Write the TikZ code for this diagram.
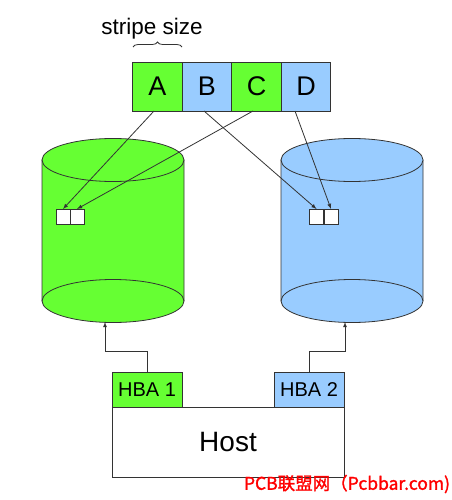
\documentclass[tikz,border=0pt]{standalone}
\usepackage{fontspec}
\setmainfont{Liberation Sans}
\newfontfamily\cjk[FakeBold=1.5]{Noto Sans CJK SC}
\usetikzlibrary{arrows,decorations.pathreplacing}

\definecolor{diskgreen}{HTML}{66FF33}
\definecolor{diskblue}{HTML}{99CCFF}

\tikzset{
    stripebox/.style={draw=black!80,line width=0.8pt,minimum width=49.5pt,minimum height=49pt,
                      inner sep=0pt,outer sep=0pt,font=\fontsize{27}{27}\selectfont},
    blockbox/.style={draw=black!80,line width=0.8pt,minimum width=14pt,minimum height=15pt,
                     inner sep=0pt,outer sep=0pt,fill=white},
    hbabox/.style={draw=black!80,line width=0.8pt,minimum width=70pt,minimum height=35pt,
                   inner sep=0pt,outer sep=0pt,font=\fontsize{20}{20}\selectfont}
}

\begin{document}
\begin{tikzpicture}[x=1pt,y=-1pt,>=latex]
    \useasboundingbox (0,0) rectangle (451,500);

    \begin{scope}[line width=0.8pt,draw=black!80]

        % the two disks
        \foreach \cx/\col in {113/diskgreen,352/diskblue}{%
            \filldraw [fill=\col] (\cx-71,160) -- (\cx-71,301)
                arc [start angle=180,end angle=0,x radius=71,y radius=21.5]
                -- (\cx+71,160) -- cycle;
            \filldraw [fill=\col] (\cx,160) ellipse [x radius=71,y radius=21.5];
            \draw (\cx-71,301) arc [start angle=180,end angle=360,x radius=71,y radius=21.5];
        }

        % stripes
        \foreach \n/\col [count=\i] in {A/diskgreen,B/diskblue,C/diskgreen,D/diskblue}{%
            \node [stripebox,fill=\col] (\n) at ({108+49.5*\i},86.5) {\n};
        }

        \draw [decorate,decoration={brace,amplitude=5pt}] (133,47) -- (182,47);
        \node [anchor=base,font=\fontsize{22.5}{22.5}\selectfont] (size) at (152,35) {stripe size};

        % blocks on the disks
        \node [blockbox] (l1) at (63,216.5) {};
        \node [blockbox] (l2) at (77,216.5) {};
        \node [blockbox] (r1) at (316.5,216.5) {};
        \node [blockbox] (r2) at (331,216.5) {};

        \draw [->] ([xshift=-3.5pt]A.south) -- (l1.north);
        \draw [->] ([xshift=-3.5pt]C.south) -- (l2.north);
        \draw [->] ([xshift=-3pt]B.south)   -- (r1.north);
        \draw [->] ([xshift=-11pt]D.south)  -- (r2.north);

        % host side
        \node [draw=black!80,minimum width=232pt,minimum height=70pt,inner sep=0pt,
               font=\fontsize{28}{28}\selectfont] (host) at (228,442) {Host};
        \node [hbabox,fill=diskgreen] (hba1) at (147,389.5) {HBA 1};
        \node [hbabox,fill=diskblue]  (hba2) at (309,389.5) {HBA 2};

        \coordinate (disk1) at (105,322);
        \coordinate (disk2) at (345,322);

        \draw [->] (hba1.north) -- ++(0,-21) -| (disk1);
        \draw [->] (hba2.north) -- ++(0,-21) -| (disk2);
    \end{scope}

    \node [color=red,font=\cjk\fontsize{17.5}{17.5}\selectfont] (mark) at (347,484) {PCB联盟网（Pcbbar.com)};

\end{tikzpicture}
\end{document}
